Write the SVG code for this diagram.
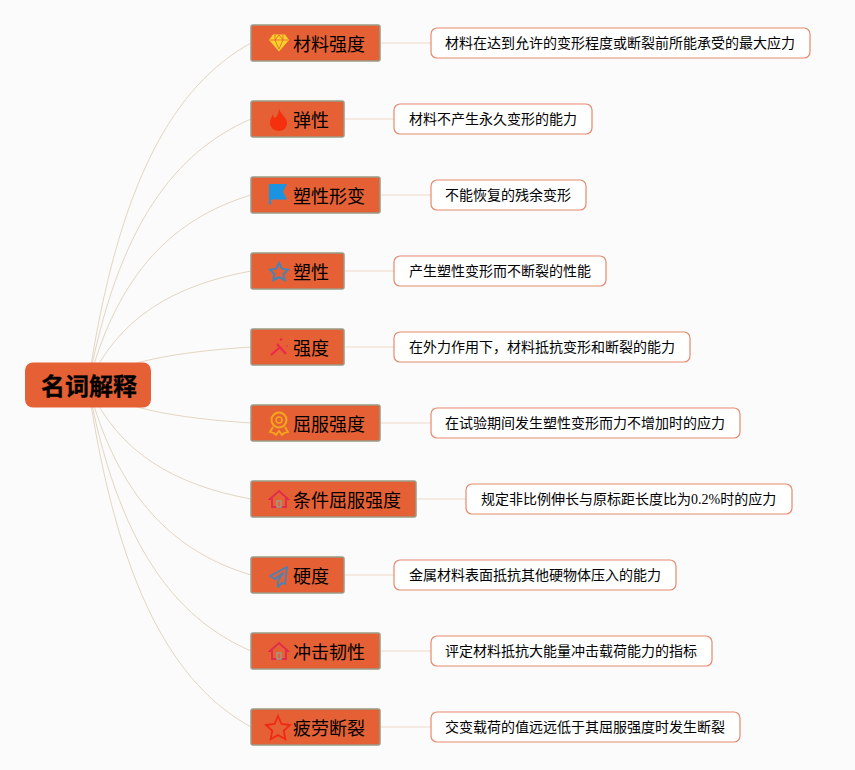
<svg xmlns="http://www.w3.org/2000/svg" width="855" height="770" viewBox="0 0 855 770">
<style>
text{font-family:"Liberation Serif","Noto Sans CJK SC",serif;fill:#000}
.l{fill:none;stroke:#e3d6c2;stroke-width:1}
.s{fill:none;stroke:#f1e6d9;stroke-width:1.5}
.t rect{fill:#e56035;stroke:#9a9a86;stroke-width:1.5}
.t text{font-size:18px}
.d rect{fill:#fff;stroke:#e58a6c;stroke-width:1.2}
.d text{font-size:14px}
</style>
<rect width="855" height="770" fill="#fbfbfb"/>
<g id="connectors">
<path class="l" d="M88 385C118 180 175 85 251 43"/>
<path class="l" d="M88 385C118 225 175 152 251 119"/>
<path class="l" d="M88 385C118 271 175 218 251 195"/>
<path class="l" d="M88 385C118 317 175 285 251 271"/>
<path class="l" d="M88 385C118 362 175 352 251 347"/>
<path class="l" d="M88 385C118 408 175 418 251 423"/>
<path class="l" d="M88 385C118 453 175 485 251 499"/>
<path class="l" d="M88 385C118 499 175 552 251 575"/>
<path class="l" d="M88 385C118 545 175 618 251 651"/>
<path class="l" d="M88 385C118 590 175 685 251 727"/>
<path class="s" d="M380 43H431M344 119H394M380 195H431M344 271H394M344 347H394M380 423H431M416 499H466M344 575H394M380 651H431M380 727H431"/>
</g>
<g id="root"><rect x="25" y="362.500" width="126" height="45" rx="8" fill="#e56035"/><text x="89" y="395" font-size="24" font-weight="700" stroke="#000" stroke-width=".3" text-anchor="middle">名词解释</text></g>
<g id="n1" class="t"><rect x="251" y="25" width="129" height="36" rx="2"/><path d="M273 34.500h12l4 5.500-10 11.500-10-11.500z" fill="#fbd02a"/><path d="M270 40h18M275 40l4 9 4-9M275 35l0 5M283 35l0 5M275 40l4-5 4 5" stroke="#e56035" fill="none" stroke-width=".8"/><text x="293" y="51">材料强度</text></g>
<g id="n2" class="t"><rect x="251" y="101" width="93" height="36" rx="2"/><path d="M279 108c0 5 8 9 8 15 0 5-4 8-8 8s-9-3-9-8c0-4 2-6 3-9 0 2 1 4 2 4 3-2 4-6 4-10z" fill="#f4300f"/><text x="293" y="127">弹性</text></g>
<g id="n3" class="t"><rect x="251" y="177" width="129" height="36" rx="2"/><path d="M269 184h18l-4 7.500 4 8h-16v5h-2z" fill="#1a93e0"/><text x="293" y="203">塑性形变</text></g>
<g id="n4" class="t"><rect x="251" y="253" width="93" height="36" rx="2"/><path d="M279 263l2.800 5.700 6.200.9-4.500 4.400 1.100 6.200-5.600-3-5.600 3 1.100-6.200-4.500-4.400 6.200-.9z" fill="none" stroke="#4683b8" stroke-width="2"/><text x="293" y="279">塑性</text></g>
<g id="n5" class="t"><rect x="251" y="329" width="93" height="36" rx="2"/><path d="M271 355l8-7M277 344l9 10" stroke="#ee2350" stroke-width="2" fill="none"/><circle cx="281" cy="339.500" r="1.300" fill="#ee2350"/><circle cx="287" cy="346" r=".8" fill="#ee2350"/><text x="293" y="355">强度</text></g>
<g id="n6" class="t"><rect x="251" y="405" width="129" height="36" rx="2"/><circle cx="279" cy="420" r="7.500" fill="none" stroke="#f5a81c" stroke-width="2"/><circle cx="279" cy="420" r="3" fill="none" stroke="#f5a81c" stroke-width="1.500"/><path d="M273 427l-3 5 4 1 2 2 3-4 3 4 2-2 4-1-3-5" fill="none" stroke="#f5a81c" stroke-width="1.800"/><text x="293" y="431">屈服强度</text></g>
<g id="n7" class="t"><rect x="251" y="481" width="165" height="36" rx="2"/><path d="M270 499l9-8 9 8h-2v8h-14v-8z" fill="none" stroke="#df2c4c" stroke-width="1.800"/><rect x="277" y="501" width="4" height="6" fill="#df2c4c" stroke="none"/><text x="293" y="507">条件屈服强度</text></g>
<g id="n8" class="t"><rect x="251" y="557" width="93" height="36" rx="2"/><path d="M287 567l-17 9 5 3 8-6-5 8v6l4-4 3 1z" fill="none" stroke="#4683b8" stroke-width="1.800" stroke-linejoin="round"/><text x="293" y="583">硬度</text></g>
<g id="n9" class="t"><rect x="251" y="633" width="129" height="36" rx="2"/><path d="M270 651l9-8 9 8h-2v8h-14v-8z" fill="none" stroke="#df2c4c" stroke-width="1.800"/><rect x="277" y="653" width="4" height="6" fill="#df2c4c" stroke="none"/><text x="293" y="659">冲击韧性</text></g>
<g id="n10" class="t"><rect x="251" y="709" width="129" height="36" rx="2"/><path d="M278 716l3.500 8 8.500 1-6.300 5.800 1.700 8.500-7.400-4.300-7.400 4.300 1.700-8.500-6.300-5.800 8.500-1z" fill="none" stroke="#f02a12" stroke-width="1.800"/><text x="293" y="735">疲劳断裂</text></g>
<g id="d1" class="d"><rect x="431" y="28" width="379" height="30" rx="6"/><text x="445" y="48">材料在达到允许的变形程度或断裂前所能承受的最大应力</text></g>
<g id="d2" class="d"><rect x="394" y="104" width="198" height="30" rx="6"/><text x="409" y="124">材料不产生永久变形的能力</text></g>
<g id="d3" class="d"><rect x="431" y="180" width="155" height="30" rx="6"/><text x="445" y="200">不能恢复的残余变形</text></g>
<g id="d4" class="d"><rect x="394" y="256" width="212" height="30" rx="6"/><text x="409" y="276">产生塑性变形而不断裂的性能</text></g>
<g id="d5" class="d"><rect x="394" y="332" width="296" height="30" rx="6"/><text x="409" y="352">在外力作用下，材料抵抗变形和断裂的能力</text></g>
<g id="d6" class="d"><rect x="431" y="408" width="309" height="30" rx="6"/><text x="445" y="428">在试验期间发生塑性变形而力不增加时的应力</text></g>
<g id="d7" class="d"><rect x="466" y="484" width="326" height="30" rx="6"/><text x="481" y="504">规定非比例伸长与原标距长度比为0.2%时的应力</text></g>
<g id="d8" class="d"><rect x="394" y="560" width="282" height="30" rx="6"/><text x="409" y="580">金属材料表面抵抗其他硬物体压入的能力</text></g>
<g id="d9" class="d"><rect x="431" y="636" width="281" height="30" rx="6"/><text x="445" y="656">评定材料抵抗大能量冲击载荷能力的指标</text></g>
<g id="d10" class="d"><rect x="431" y="712" width="309" height="30" rx="6"/><text x="445" y="732">交变载荷的值远远低于其屈服强度时发生断裂</text></g>
</svg>
